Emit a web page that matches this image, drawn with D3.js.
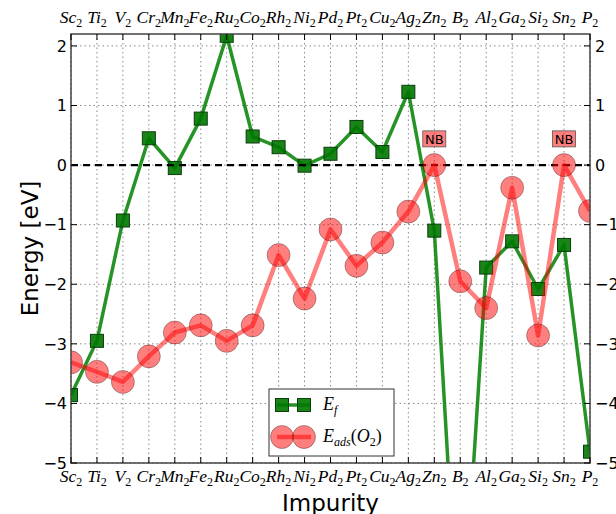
<!DOCTYPE html>
<html>
<head>
<meta charset="utf-8">
<script src="https://cdn.jsdelivr.net/npm/d3@7"></script>
<style>
  body { margin: 0; background: #fff; }
  text { fill: #000; }
</style>
</head>
<body>
<div id="chart"></div>
<script>
(function() {
  'use strict';

  // impurity pairs (element names, all with subscript 2)
  var impurities = ['Sc', 'Ti', 'V', 'Cr', 'Mn', 'Fe', 'Ru', 'Co', 'Rh', 'Ni', 'Pd',
    'Pt', 'Cu', 'Ag', 'Zn', 'B', 'Al', 'Ga', 'Si', 'Sn', 'P'];

  // formation energy E_f [eV]
  var formationEnergy = [-3.86, -2.95, -0.93, 0.45, -0.05, 0.78, 2.17, 0.48, 0.30, -0.01, 0.19,
    0.64, 0.22, 1.23, -1.10, -8.5, -1.72, -1.28, -2.08, -1.34, -4.81];

  // O2 adsorption energy E_ads(O2) [eV]
  var adsorptionEnergy = [-3.31, -3.47, -3.64, -3.21, -2.81, -2.69, -2.95, -2.69, -1.51, -2.24, -1.08,
    -1.69, -1.30, -0.78, 0.0, -1.95, -2.40, -0.38, -2.86, 0.0, -0.77];

  // impurities where O2 does not bind
  var noBinding = ['Zn', 'Sn'];

  var yTicks = [-5, -4, -3, -2, -1, 0, 1, 2];

  var svgW = 616,
    svgH = 514,
    left = 71,
    right = 590,
    top = 34,
    bottom = 463;

  var svg = d3.select('#chart')
    .append('svg')
    .attr('width', svgW)
    .attr('height', svgH);

  var x = d3.scalePoint()
    .domain(impurities)
    .range([left, right])
    .padding(0);

  var y = d3.scaleLinear()
    .domain([-5, 2.2])
    .range([bottom, top]);

  svg.append('clipPath')
    .attr('id', 'plot-clip')
    .append('rect')
    .attr('x', left)
    .attr('y', top)
    .attr('width', right - left)
    .attr('height', bottom - top);

  // grid
  var grid = svg.append('g');
  grid.selectAll('line.vgrid')
    .data(impurities)
    .enter()
    .append('line')
    .attr('x1', function(d) { return x(d); })
    .attr('x2', function(d) { return x(d); })
    .attr('y1', top)
    .attr('y2', bottom)
    .attr('stroke', '#888')
    .attr('stroke-width', 1)
    .attr('stroke-dasharray', '1.5,3');
  grid.selectAll('line.hgrid')
    .data(yTicks)
    .enter()
    .append('line')
    .attr('x1', left)
    .attr('x2', right)
    .attr('y1', function(d) { return y(d); })
    .attr('y2', function(d) { return y(d); })
    .attr('stroke', '#888')
    .attr('stroke-width', 1)
    .attr('stroke-dasharray', '1.5,3');

  var plot = svg.append('g').attr('clip-path', 'url(#plot-clip)');

  var rows = impurities.map(function(name, i) {
    return { name: name, ef: formationEnergy[i], ads: adsorptionEnergy[i] };
  });

  // E_f series
  var efLine = d3.line()
    .x(function(d) { return x(d.name); })
    .y(function(d) { return y(d.ef); });

  plot.append('path')
    .datum(rows)
    .attr('d', efLine)
    .attr('fill', 'none')
    .attr('stroke', '#008000')
    .attr('stroke-opacity', 0.85)
    .attr('stroke-width', 3.5)
    .attr('stroke-linejoin', 'round');

  plot.selectAll('rect.ef')
    .data(rows)
    .enter()
    .append('rect')
    .attr('x', function(d) { return x(d.name) - 6.5; })
    .attr('y', function(d) { return y(d.ef) - 6.5; })
    .attr('width', 13)
    .attr('height', 13)
    .attr('fill', '#007800')
    .attr('fill-opacity', 0.9)
    .attr('stroke', '#0b3d0b')
    .attr('stroke-width', 1);

  // zero reference
  plot.append('line')
    .attr('x1', left)
    .attr('x2', right)
    .attr('y1', y(0))
    .attr('y2', y(0))
    .attr('stroke', '#000')
    .attr('stroke-width', 2.2)
    .attr('stroke-dasharray', '7,5');

  // E_ads series
  var adsLine = d3.line()
    .x(function(d) { return x(d.name); })
    .y(function(d) { return y(d.ads); });

  plot.append('path')
    .datum(rows)
    .attr('d', adsLine)
    .attr('fill', 'none')
    .attr('stroke', '#ff0000')
    .attr('stroke-opacity', 0.5)
    .attr('stroke-width', 4.5)
    .attr('stroke-linejoin', 'round');

  plot.selectAll('circle.ads')
    .data(rows)
    .enter()
    .append('circle')
    .attr('cx', function(d) { return x(d.name); })
    .attr('cy', function(d) { return y(d.ads); })
    .attr('r', 11.5)
    .attr('fill', '#ff0000')
    .attr('fill-opacity', 0.5)
    .attr('stroke', '#000')
    .attr('stroke-opacity', 0.3)
    .attr('stroke-width', 1);

  // NB labels
  var nb = svg.selectAll('g.nb')
    .data(noBinding)
    .enter()
    .append('g')
    .attr('transform', function(d) { return 'translate(' + x(d) + ',' + y(0.44) + ')'; });
  nb.append('rect')
    .attr('x', -11.5)
    .attr('y', -8)
    .attr('width', 23)
    .attr('height', 16)
    .attr('fill', '#ff0000')
    .attr('fill-opacity', 0.5)
    .attr('stroke', '#555')
    .attr('stroke-width', 0.8);
  nb.append('text')
    .attr('text-anchor', 'middle')
    .attr('dy', '0.36em')
    .attr('font-family', 'DejaVu Sans, sans-serif')
    .attr('font-size', 13)
    .text('NB');

  // frame
  svg.append('rect')
    .attr('x', left)
    .attr('y', top)
    .attr('width', right - left)
    .attr('height', bottom - top)
    .attr('fill', 'none')
    .attr('stroke', '#444')
    .attr('stroke-width', 1.5);

  // ticks (inward)
  var ticks = svg.append('g').attr('stroke', '#000').attr('stroke-width', 1);
  impurities.forEach(function(d) {
    ticks.append('line').attr('x1', x(d)).attr('x2', x(d)).attr('y1', bottom).attr('y2', bottom - 6);
    ticks.append('line').attr('x1', x(d)).attr('x2', x(d)).attr('y1', top).attr('y2', top + 6);
  });
  yTicks.forEach(function(v) {
    ticks.append('line').attr('x1', left).attr('x2', left + 6).attr('y1', y(v)).attr('y2', y(v));
    ticks.append('line').attr('x1', right).attr('x2', right - 6).attr('y1', y(v)).attr('y2', y(v));
  });

  // y tick labels, both sides
  function fmt(v) { return v < 0 ? '\u2212' + Math.abs(v) : String(v); }
  svg.selectAll('text.yl')
    .data(yTicks)
    .enter()
    .append('text')
    .attr('x', left - 4)
    .attr('y', function(d) { return y(d); })
    .attr('dy', '0.36em')
    .attr('text-anchor', 'end')
    .attr('font-family', 'DejaVu Sans, sans-serif')
    .attr('font-size', 16)
    .text(fmt);
  svg.selectAll('text.yr')
    .data(yTicks)
    .enter()
    .append('text')
    .attr('x', right + 5)
    .attr('y', function(d) { return y(d); })
    .attr('dy', '0.36em')
    .attr('text-anchor', 'start')
    .attr('font-family', 'DejaVu Sans, sans-serif')
    .attr('font-size', 16)
    .text(fmt);

  // category labels top and bottom
  function catLabel(sel, yPos) {
    var t = sel.append('text')
      .attr('x', function(d) { return x(d); })
      .attr('y', yPos)
      .attr('text-anchor', 'middle')
      .attr('font-family', 'Liberation Serif, serif')
      .attr('font-style', 'italic')
      .attr('font-size', 17.5);
    t.append('tspan').text(function(d) { return d; });
    t.append('tspan').attr('dy', 4).attr('font-size', 12).attr('font-style', 'normal').text('2');
  }
  catLabel(svg.selectAll('text.xt').data(impurities).enter(), 23);
  catLabel(svg.selectAll('text.xb').data(impurities).enter(), 482);

  // axis titles
  svg.append('text')
    .attr('transform', 'translate(38,' + (top + bottom) / 2 + ') rotate(-90)')
    .attr('text-anchor', 'middle')
    .attr('font-family', 'DejaVu Sans, sans-serif')
    .attr('font-size', 23)
    .text('Energy [eV]');
  svg.append('text')
    .attr('x', (left + right) / 2)
    .attr('y', 511)
    .attr('text-anchor', 'middle')
    .attr('font-family', 'DejaVu Sans, sans-serif')
    .attr('font-size', 23)
    .text('Impurity');

  // legend
  var lg = svg.append('g').attr('transform', 'translate(269,389)');
  lg.append('rect')
    .attr('width', 125)
    .attr('height', 67)
    .attr('fill', '#fff')
    .attr('stroke', '#333')
    .attr('stroke-width', 1);
  lg.append('line').attr('x1', 8).attr('x2', 42).attr('y1', 16).attr('y2', 16)
    .attr('stroke', '#008000').attr('stroke-opacity', 0.85).attr('stroke-width', 3.5);
  [13, 35].forEach(function(cx) {
    lg.append('rect').attr('x', cx - 6.5).attr('y', 16 - 6.5).attr('width', 13).attr('height', 13)
      .attr('fill', '#007800').attr('fill-opacity', 0.9).attr('stroke', '#0b3d0b');
  });
  lg.append('line').attr('x1', 8).attr('x2', 42).attr('y1', 48).attr('y2', 48)
    .attr('stroke', '#ff0000').attr('stroke-opacity', 0.5).attr('stroke-width', 4.5);
  [13, 35].forEach(function(cx) {
    lg.append('circle').attr('cx', cx).attr('cy', 48).attr('r', 11.5)
      .attr('fill', '#ff0000').attr('fill-opacity', 0.5)
      .attr('stroke', '#000').attr('stroke-opacity', 0.3);
  });
  var t1 = lg.append('text').attr('x', 54).attr('y', 21)
    .attr('font-family', 'Liberation Serif, serif').attr('font-style', 'italic').attr('font-size', 18);
  t1.append('tspan').text('E');
  t1.append('tspan').attr('dy', 4).attr('font-size', 12).text('f');
  var t2 = lg.append('text').attr('x', 54).attr('y', 53)
    .attr('font-family', 'Liberation Serif, serif').attr('font-style', 'italic').attr('font-size', 18);
  t2.append('tspan').text('E');
  t2.append('tspan').attr('dy', 4).attr('font-size', 12).text('ads');
  t2.append('tspan').attr('dy', -4).attr('font-style', 'normal').text('(');
  t2.append('tspan').text('O');
  t2.append('tspan').attr('dy', 4).attr('font-size', 12).attr('font-style', 'normal').text('2');
  t2.append('tspan').attr('dy', -4).attr('font-style', 'normal').text(')');

}());
</script>
</body>
</html>
